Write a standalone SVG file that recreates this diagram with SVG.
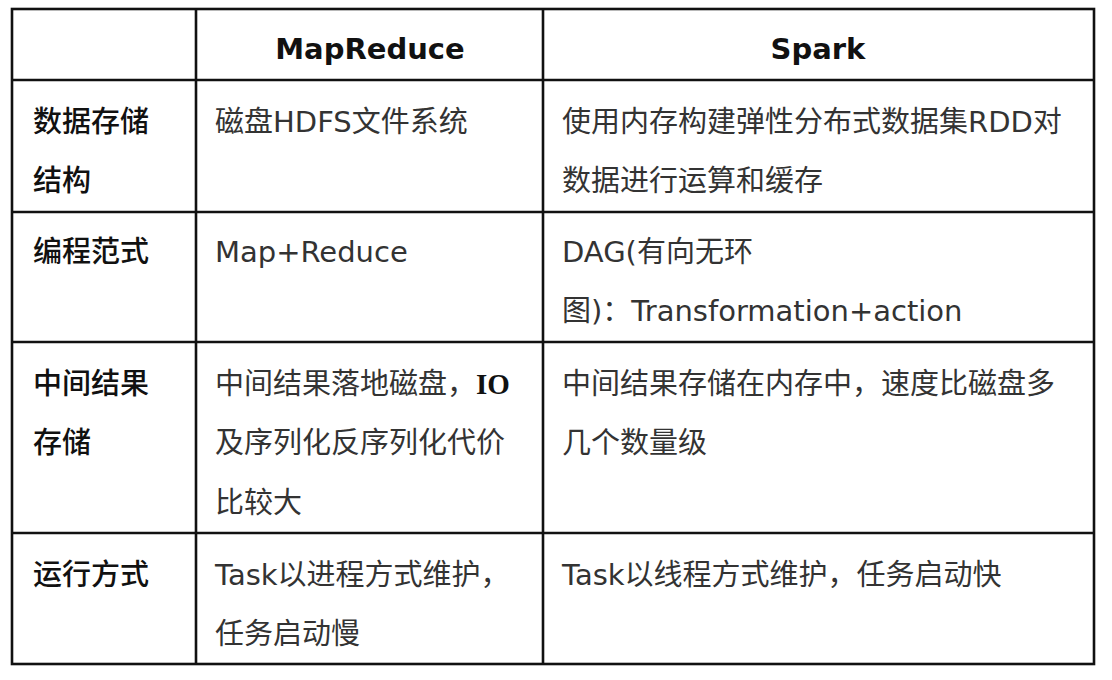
<svg xmlns="http://www.w3.org/2000/svg" width="1112" height="680" viewBox="0 0 1112 680">
<style>
text{font-family:"DejaVu Sans","Noto Sans CJK SC",sans-serif;font-size:29px}
.h{font-weight:bold;fill:#111;text-anchor:middle}
.k{fill:#111;font-weight:500}
.v{fill:#333}
.io{font-family:"Liberation Serif","Noto Sans CJK SC",serif;font-weight:bold;fill:#111}
.grid line,.grid rect{stroke:#111;stroke-width:2.6;fill:none}
</style>
<rect width="1112" height="680" fill="#fff"/>
<g class="grid" id="grid">
<rect x="12" y="9" width="1082" height="655"/>
<line x1="196" y1="9" x2="196" y2="664"/>
<line x1="543" y1="9" x2="543" y2="664"/>
<line x1="12" y1="80" x2="1094" y2="80"/>
<line x1="12" y1="212" x2="1094" y2="212"/>
<line x1="12" y1="342" x2="1094" y2="342"/>
<line x1="12" y1="533" x2="1094" y2="533"/>
</g>
<g id="header">
<text class="h" x="370" y="59">MapReduce</text>
<text class="h" x="818" y="59">Spark</text>
</g>
<g id="row1">
<text class="k" x="33" y="132">数据存储</text>
<text class="k" x="33" y="191">结构</text>
<text class="v" x="215" y="132">磁盘HDFS文件系统</text>
<text class="v" x="562" y="132">使用内存构建弹性分布式数据集RDD对</text>
<text class="v" x="562" y="191">数据进行运算和缓存</text>
</g>
<g id="row2">
<text class="k" x="33" y="262">编程范式</text>
<text class="v" x="215" y="262">Map+Reduce</text>
<text class="v" x="562" y="262">DAG(有向无环</text>
<text class="v" x="562" y="321">图)：Transformation+action</text>
</g>
<g id="row3">
<text class="k" x="33" y="394">中间结果</text>
<text class="k" x="33" y="453">存储</text>
<text class="v" x="215" y="394">中间结果落地磁盘，<tspan class="io">IO</tspan></text>
<text class="v" x="215" y="453">及序列化反序列化代价</text>
<text class="v" x="215" y="513">比较大</text>
<text class="v" x="562" y="394">中间结果存储在内存中，速度比磁盘多</text>
<text class="v" x="562" y="453">几个数量级</text>
</g>
<g id="row4">
<text class="k" x="33" y="585">运行方式</text>
<text class="v" x="215" y="585">Task以进程方式维护，</text>
<text class="v" x="215" y="644">任务启动慢</text>
<text class="v" x="562" y="585">Task以线程方式维护，任务启动快</text>
</g>
</svg>
